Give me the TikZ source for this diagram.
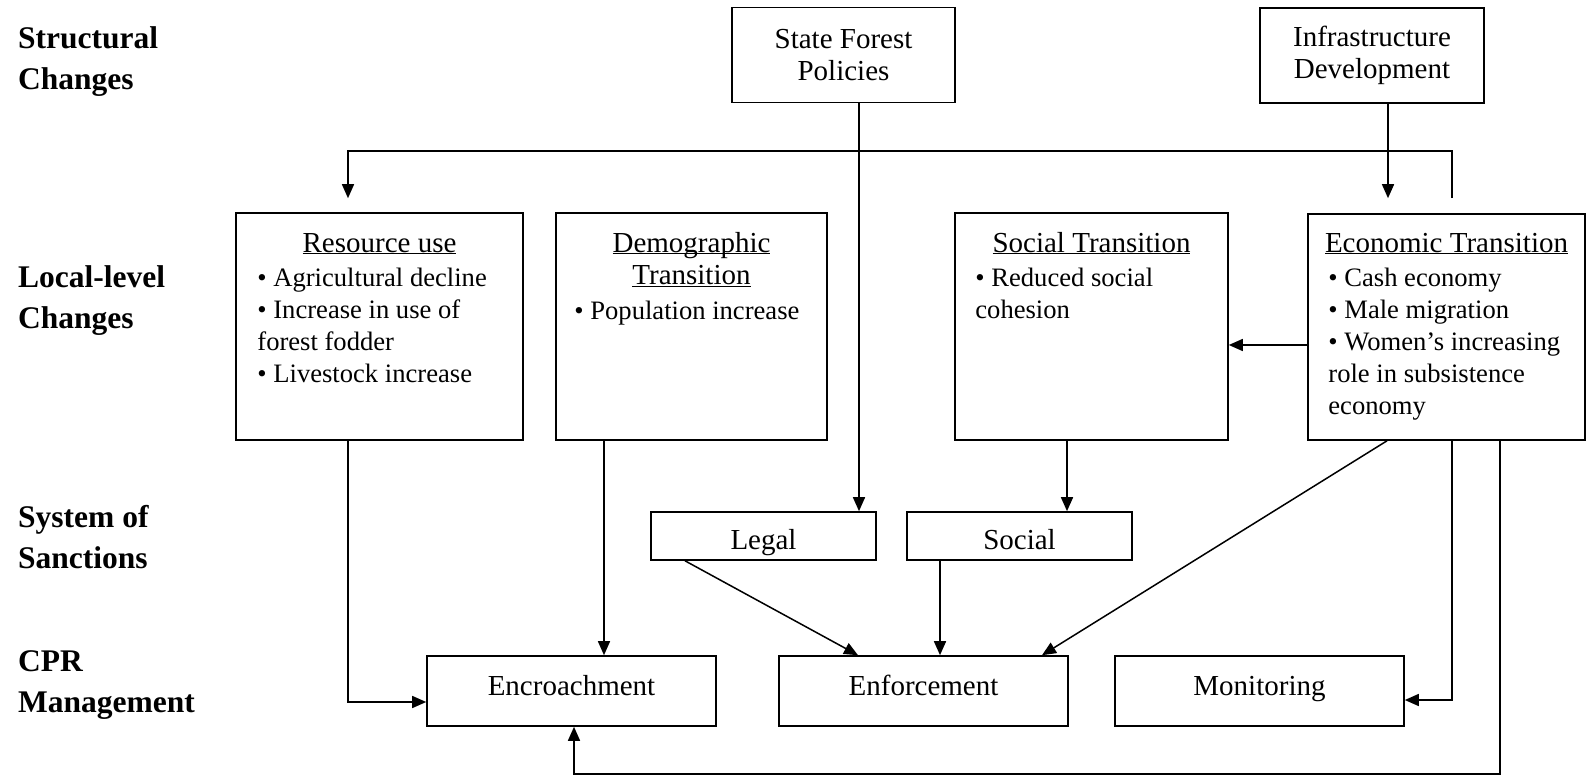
\documentclass[tikz,border=0pt]{standalone}
\usepackage{fontspec}
\setmainfont{Liberation Serif}
\usetikzlibrary{arrows.meta, positioning}

\newcommand{\ttl}[1]{\underline{\smash{#1}}}
\newcommand{\bodyfont}{\fontsize{29}{32.5}\selectfont}
\newcommand{\itemfont}{\fontsize{26.6}{32}\selectfont}
\newcommand{\levelfont}{\fontsize{31.5}{40.5}\selectfont\bfseries}

\tikzset{
  box/.style={draw, line width=1.6pt, inner sep=0pt, align=center, font=\bodyfont},
  sanctbox/.style={box, minimum width=225pt, minimum height=48pt, text height=27pt, text depth=0pt},
  cprbox/.style={box, minimum width=289pt, minimum height=70pt, text height=24pt, text depth=16pt},
  level/.style={anchor=west, align=left, inner sep=0pt, font=\levelfont},
  heading/.style={anchor=north, align=center, inner sep=0pt, font=\bodyfont},
  bullets/.style={anchor=north west, align=left, inner sep=0pt, font=\itemfont},
  arr/.style={line width=1.5pt, -{Triangle[length=14pt,width=12pt]}}
}

\begin{document}
\begin{tikzpicture}[x=1pt, y=-1pt]
  \useasboundingbox (0,0) rectangle (1587,775);

  % Level labels (left column)
  \node[level] (lstruct) at (18,61) {\strut Structural\\\strut Changes};
  \node[level] (llocal) at (18,300) {\strut Local-level\\\strut Changes};
  \node[level] (lsanct) at (18,540) {\strut System of\\\strut Sanctions};
  \node[level] (lcpr) at (18,684) {\strut CPR\\\strut Management};

  % Structural changes (top row)
  \node[box, minimum width=223pt, minimum height=95pt] (sfp) at (843.5,55) {State Forest\\Policies};
  \node[box, minimum width=224pt, minimum height=95pt] (infra) at (1372,55.5) {Infrastructure\\Development};

  % Local-level changes
  \node[box, minimum width=287pt, minimum height=227pt] (res) at (379.5,326.5) {};
  \node[heading, below=17pt of res.north] (restitle) {\strut\ttl{Resource use}};
  \node[bullets, below right=51.5pt and 22pt of res.north west] (resitems)
    {\strut• Agricultural decline\\• Increase in use of\\forest fodder\\• Livestock increase};

  \node[box, minimum width=271pt, minimum height=227pt] (dem) at (691.5,326.5) {};
  \node[heading, below=17pt of dem.north] (demtitle) {\strut\ttl{Demographic}\\\ttl{Transition}};
  \node[bullets, below right=84.5pt and 19pt of dem.north west] (demitems)
    {\strut• Population increase};

  \node[box, minimum width=273pt, minimum height=227pt] (soc) at (1091.5,326.5) {};
  \node[heading, below=17pt of soc.north] (soctitle) {\strut\ttl{Social Transition}};
  \node[bullets, below right=51.5pt and 21pt of soc.north west] (socitems)
    {\strut• Reduced social\\cohesion};

  \node[box, minimum width=277pt, minimum height=226pt] (eco) at (1446.5,327) {};
  \node[heading, below=16pt of eco.north] (ecotitle) {\strut\ttl{Economic Transition}};
  \node[bullets, below right=51pt and 21pt of eco.north west] (ecoitems)
    {\strut• Cash economy\\• Male migration\\• Women’s increasing\\role in subsistence\\economy};

  % System of sanctions
  \node[sanctbox] (legal) at (763.5,536) {Legal};
  \node[sanctbox] (sanc) at (1019.5,536) {Social};

  % CPR management
  \node[cprbox] (encr) at (571.5,691) {Encroachment};
  \node[cprbox] (enf) at (923.5,691) {Enforcement};
  \node[cprbox] (mon) at (1259.5,691) {Monitoring};

  % Arrows from the top row
  \draw[arr] ([xshift=15.5pt]sfp.south) coordinate (s1) -- (s1 |- legal.north);
  \draw[arr] ([xshift=16pt]infra.south) -- ([xshift=-58.5pt,yshift=15pt]eco.north);
  \draw[arr] ([xshift=5.5pt,yshift=15pt]eco.north) -- ++(0,-47) -| ([xshift=-31.5pt,yshift=14pt]res.north);

  % Arrows between local-level boxes
  \draw[arr] ([yshift=-18pt]eco.west) -- ([yshift=-18.5pt]soc.east);
  \draw[arr] ([xshift=-24.5pt]soc.south) coordinate (s2) -- (s2 |- sanc.north);

  % Arrows into CPR management
  \draw[arr] ([xshift=-31.5pt]res.south) |- ([yshift=-11pt]encr.west);
  \draw[arr] ([xshift=-87.5pt]dem.south) coordinate (s3) -- (s3 |- encr.north);
  \draw[arr] ([xshift=-78.5pt]legal.south) -- ([xshift=-65.5pt]enf.north);
  \draw[arr] ([xshift=-79.5pt]sanc.south) coordinate (s4) -- (s4 |- enf.north);
  \draw[arr] ([xshift=-59.5pt]eco.south) -- ([xshift=118.5pt]enf.north);
  \draw[arr] ([xshift=5.5pt]eco.south) |- ([yshift=-9pt]mon.east);
  \draw[arr] ([xshift=53.5pt]eco.south) -- ++(0,333) -| ([xshift=2.5pt]encr.south);
\end{tikzpicture}
\end{document}
